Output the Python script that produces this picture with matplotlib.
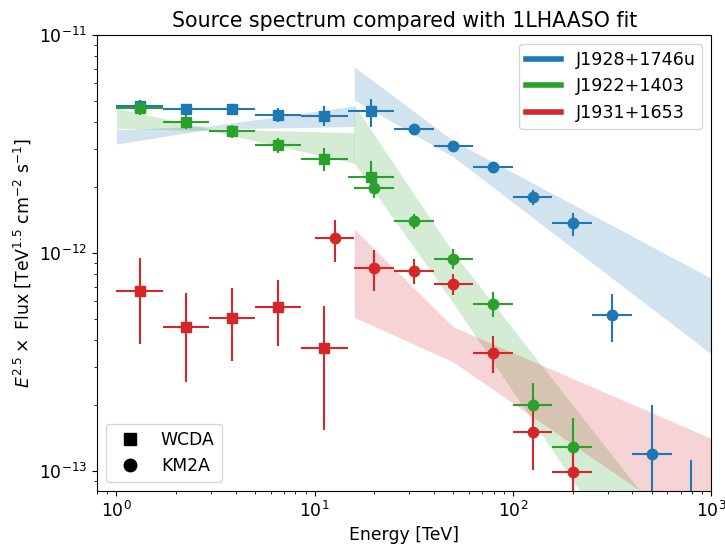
import numpy as np
import matplotlib
matplotlib.use("Agg")
import matplotlib.pyplot as plt
from matplotlib.lines import Line2D

plt.rcParams['font.size'] = 12.4

# energy bins (TeV)
wcda_e = [1.31, 2.24, 3.83, 6.55, 11.2, 19.2]
wcda_lo = [1.0, 1.71, 2.93, 5.01, 8.58, 14.7]
wcda_hi = [1.71, 2.93, 5.01, 8.58, 14.7, 25.1]

km2a_e = [12.6, 20.0, 31.6, 50.1, 79.4, 126, 200, 316, 501, 794]
km2a_lo = [10.0, 15.8, 25.1, 39.8, 63.1, 100, 158, 251, 398, 631]
km2a_hi = [15.8, 25.1, 39.8, 63.1, 100, 158, 251, 398, 631, 1000]

# E^2.5 x flux, units of 1e-12
blue_w = [4.72, 4.58, 4.57, 4.30, 4.27, 4.46]
blue_w_up = [0.30, 0.25, 0.25, 0.32, 0.45, 0.63]
blue_w_dn = [0.30, 0.25, 0.25, 0.32, 0.45, 0.66]
blue_k = [3.72, 3.10, 2.49, 1.80, 1.37, 0.521, 0.120, 0.050]
blue_k_up = [0.10, 0.10, 0.10, 0.14, 0.16, 0.128, 0.081, 0.062]
blue_k_dn = [0.10, 0.10, 0.10, 0.14, 0.17, 0.130, 0.100, 0.040]

green_w = [4.61, 3.99, 3.61, 3.12, 2.71, 2.23]
green_w_up = [0.33, 0.29, 0.26, 0.25, 0.33, 0.41]
green_w_dn = [0.33, 0.29, 0.26, 0.25, 0.33, 0.35]
green_k = [1.99, 1.40, 0.942, 0.585, 0.201, 0.129]
green_k_up = [0.20, 0.11, 0.10, 0.080, 0.051, 0.046]
green_k_dn = [0.20, 0.11, 0.10, 0.079, 0.041, 0.030]

red_w = [0.671, 0.458, 0.504, 0.565, 0.366]
red_w_up = [0.279, 0.198, 0.185, 0.187, 0.205]
red_w_dn = [0.290, 0.203, 0.186, 0.189, 0.212]
red_k = [1.17, 0.853, 0.826, 0.721, 0.347, 0.151, 0.0987]
red_k_up = [0.25, 0.177, 0.114, 0.079, 0.069, 0.039, 0.036]
red_k_dn = [0.258, 0.182, 0.106, 0.081, 0.067, 0.050, 0.060]

# 1LHAASO fit bands (edges at E_min, E0, E_max), units of 1e-12
band_w_e = [1.0, 3.0, 15.85]
band_k_e = [15.85, 50.0, 1000.0]
blue_bw_hi = [3.67, 3.83, 4.72]
blue_bw_lo = [3.16, 3.70, 3.80]
blue_bk_hi = [7.15, 3.27, 0.766]
blue_bk_lo = [5.03, 2.76, 0.344]
green_bw_hi = [4.61, 3.71, 3.56]
green_bw_lo = [3.73, 3.63, 2.58]
green_bk_hi = [4.78, 1.005, 0.031]
green_bk_lo = [2.58, 0.591, 0.0103]
red_bk_hi = [1.285, 0.458, 0.141]
red_bk_lo = [0.506, 0.316, 0.0483]

names = ['J1928+1746u', 'J1922+1403', 'J1931+1653']
colors = ['tab:blue', 'tab:green', 'tab:red']

sources = [
    dict(w=blue_w, wu=blue_w_up, wd=blue_w_dn, wi=slice(0, 6),
         k=blue_k, ku=blue_k_up, kd=blue_k_dn, ki=slice(2, 10),
         bw=(blue_bw_lo, blue_bw_hi), bk=(blue_bk_lo, blue_bk_hi)),
    dict(w=green_w, wu=green_w_up, wd=green_w_dn, wi=slice(0, 6),
         k=green_k, ku=green_k_up, kd=green_k_dn, ki=slice(1, 7),
         bw=(green_bw_lo, green_bw_hi), bk=(green_bk_lo, green_bk_hi)),
    dict(w=red_w, wu=red_w_up, wd=red_w_dn, wi=slice(0, 5),
         k=red_k, ku=red_k_up, kd=red_k_dn, ki=slice(0, 7),
         bw=None, bk=(red_bk_lo, red_bk_hi)),
]

def xerrs(e, lo, hi, sl):
    e = np.array(e)[sl]
    return e, [e - np.array(lo)[sl], np.array(hi)[sl] - e]

fig = plt.figure(figsize=(7.25, 5.46), dpi=100)
ax = fig.add_axes([0.134, 0.101, 0.847, 0.835])

for src, c in zip(sources, colors):
    if src['bw'] is not None:
        ax.fill_between(band_w_e, np.array(src['bw'][0]) * 1e-12,
                        np.array(src['bw'][1]) * 1e-12, color=c, alpha=0.2, lw=0)
    ax.fill_between(band_k_e, np.array(src['bk'][0]) * 1e-12,
                    np.array(src['bk'][1]) * 1e-12, color=c, alpha=0.2, lw=0)

    x, xe = xerrs(wcda_e, wcda_lo, wcda_hi, src['wi'])
    y = np.array(src['w']) * 1e-12
    ye = [np.array(src['wd']) * 1e-12, np.array(src['wu']) * 1e-12]
    ax.errorbar(x, y, xerr=xe, yerr=ye, fmt='s', color=c, ms=7.5)

    x, xe = xerrs(km2a_e, km2a_lo, km2a_hi, src['ki'])
    y = np.array(src['k']) * 1e-12
    ye = [np.array(src['kd']) * 1e-12, np.array(src['ku']) * 1e-12]
    ax.errorbar(x, y, xerr=xe, yerr=ye, fmt='o', color=c, ms=7.5)

ax.set_xscale('log')
ax.set_yscale('log')
ax.set_xlim(0.8, 1000)
ax.set_ylim(8.1e-14, 1e-11)
ax.set_xlabel('Energy [TeV]')
ax.set_ylabel(r'$E^{2.5}\times$ Flux [TeV$^{1.5}$ cm$^{-2}$ s$^{-1}$]')
ax.set_title('Source spectrum compared with 1LHAASO fit', fontsize=14.8)

src_handles = [Line2D([], [], color=c, lw=4) for c in colors]
leg1 = ax.legend(src_handles, names, loc='upper right', fontsize=12.6)
ax.add_artist(leg1)
det_handles = [Line2D([], [], color='k', marker='s', ls='', ms=9),
               Line2D([], [], color='k', marker='o', ls='', ms=9)]
ax.legend(det_handles, ['WCDA', 'KM2A'], loc='lower left')

fig.savefig('out.png', dpi=100)
